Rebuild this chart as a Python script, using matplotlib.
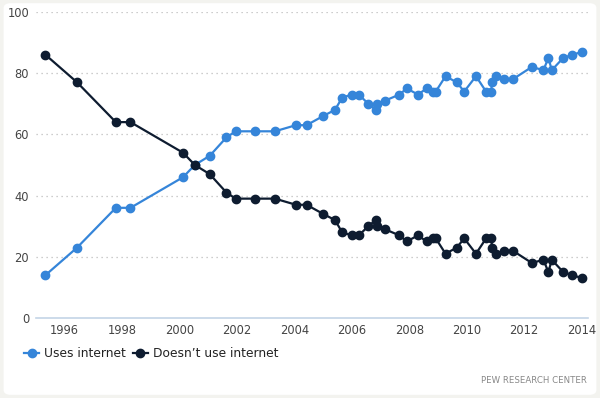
import matplotlib
matplotlib.use('Agg')
import matplotlib.pyplot as plt
from matplotlib.patches import FancyBboxPatch
from matplotlib.lines import Line2D

plt.rcParams['font.family'] = 'DejaVu Sans'

# survey dates (decimal years) and shares of adults, %
years = [1995.33, 1996.43, 1997.78, 1998.29, 2000.12, 2000.53, 2001.05, 2001.63,
         2001.95, 2002.64, 2003.32, 2004.05, 2004.42, 2005.00, 2005.41, 2005.66,
         2005.99, 2006.24, 2006.57, 2006.83, 2006.89, 2007.15, 2007.65, 2007.91,
         2008.30, 2008.60, 2008.83, 2008.92, 2009.26, 2009.65, 2009.91, 2010.32,
         2010.67, 2010.84, 2010.89, 2011.02, 2011.31, 2011.60, 2012.26, 2012.67,
         2012.84, 2012.96, 2013.36, 2013.68, 2014.02]
uses = [14, 23, 36, 36, 46, 50, 53, 59,
        61, 61, 61, 63, 63, 66, 68, 72,
        73, 73, 70, 68, 70, 71, 73, 75,
        73, 75, 74, 74, 79, 77, 74, 79,
        74, 74, 77, 79, 78, 78, 82, 81,
        85, 81, 85, 86, 87]
not_uses = [86, 77, 64, 64, 54, 50, 47, 41,
            39, 39, 39, 37, 37, 34, 32, 28,
            27, 27, 30, 32, 30, 29, 27, 25,
            27, 25, 26, 26, 21, 23, 26, 21,
            26, 26, 23, 21, 22, 22, 18, 19,
            15, 19, 15, 14, 13]
tick_years = [1996, 1998, 2000, 2002, 2004, 2006, 2008, 2010, 2012, 2014]
y_ticks = [0, 20, 40, 60, 80, 100]

blue = '#3585d9'
dark = '#0e1c30'

fig = plt.figure(figsize=(6, 3.98), dpi=100)
fig.patch.set_facecolor('#f3f3ef')
card = FancyBboxPatch((0.006, 0.008), 0.988, 0.984, boxstyle='round,pad=0,rounding_size=0.012',
                      transform=fig.transFigure, facecolor='white', edgecolor='none', zorder=-10)
fig.patches.append(card)

ax = fig.add_axes([0.06, 0.201, 0.92, 0.769])
ax.set_facecolor('none')
ax.set_zorder(5)

ax.plot(years, uses, color=blue, lw=1.6, marker='o', ms=6, zorder=3, clip_on=False)
ax.plot(years, not_uses, color=dark, lw=1.6, marker='o', ms=6, zorder=3, clip_on=False)

ax.set_xlim(1995.0, 2014.22)
ax.set_ylim(0, 100)
ax.set_xticks(tick_years)
ax.set_xticklabels([str(y) for y in tick_years])
ax.set_yticks(y_ticks)
for v in y_ticks[1:]:
    ax.axhline(v, color='#bdbdbd', lw=0.9, ls=(0, (1, 3)), zorder=1)

for s in ['top', 'right', 'left']:
    ax.spines[s].set_visible(False)
ax.spines['bottom'].set_color('#c4d4e6')
ax.spines['bottom'].set_linewidth(1.2)
ax.tick_params(axis='both', length=0, labelsize=8.3, colors='#444444')
ax.tick_params(axis='x', pad=4)
ax.tick_params(axis='y', pad=5)

handles = [Line2D([], [], color=blue, lw=1.6, marker='o', ms=6),
           Line2D([], [], color=dark, lw=1.6, marker='o', ms=6)]
fig.legend(handles, ['Uses internet', 'Doesn\u2019t use internet'],
           loc='center left', bbox_to_anchor=(0.022, 0.111), ncol=2, frameon=False,
           fontsize=8.8, handlelength=1.2, handletextpad=0.4, columnspacing=0.6,
           labelcolor='#222222')

fig.text(0.978, 0.045, 'PEW RESEARCH CENTER', ha='right', va='center',
         fontsize=6.2, color='#888888')

fig.savefig('out.png', dpi=100, facecolor=fig.get_facecolor())
